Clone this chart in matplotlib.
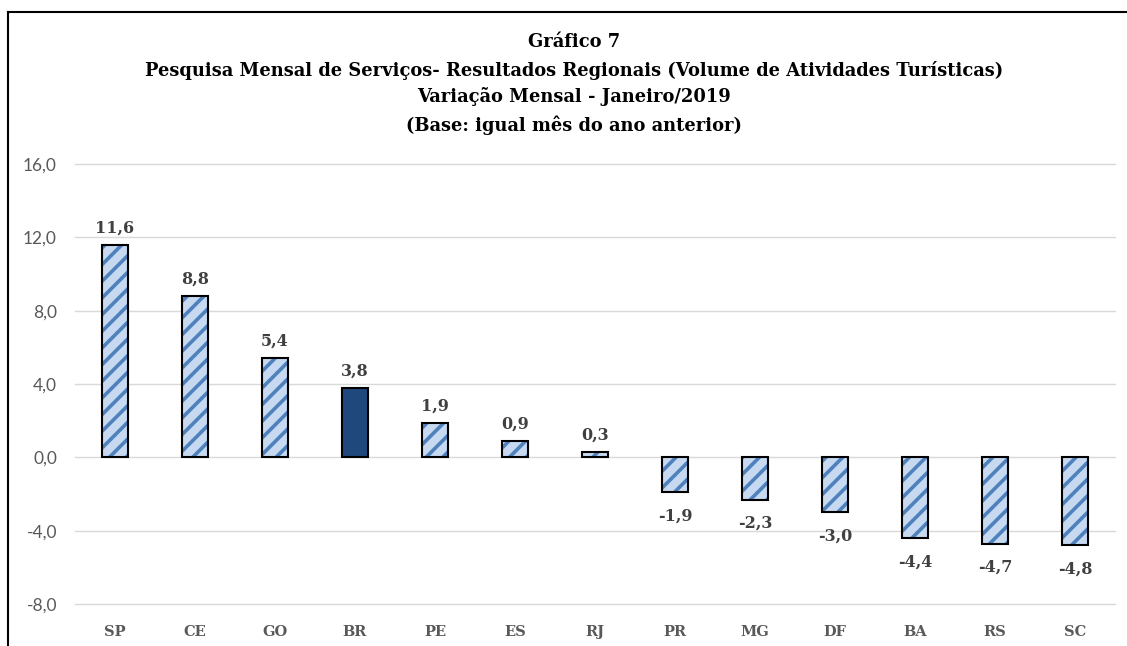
import numpy as np
import matplotlib
matplotlib.use('Agg')
import matplotlib.pyplot as plt
from matplotlib.lines import Line2D

# data
regions = ['SP', 'CE', 'GO', 'BR', 'PE', 'ES', 'RJ', 'PR', 'MG', 'DF', 'BA', 'RS', 'SC']
values = [11.6, 8.8, 5.4, 3.8, 1.9, 0.9, 0.3, -1.9, -2.3, -3.0, -4.4, -4.7, -4.8]
highlight = 'BR'
yticks = [-8.0, -4.0, 0.0, 4.0, 8.0, 12.0, 16.0]
title_lines = ['Gráfico 7',
               'Pesquisa Mensal de Serviços- Resultados Regionais (Volume de Atividades Turísticas)',
               'Variação Mensal - Janeiro/2019',
               '(Base: igual mês do ano anterior)']

light_blue = '#c6d9f1'
stripe_blue = '#4f81bd'
dark_blue = '#1f497d'
grey_txt = '#595959'

plt.rcParams['hatch.linewidth'] = 2.6
plt.rcParams['hatch.color'] = stripe_blue

fig = plt.figure(figsize=(11.27, 6.46), dpi=100)
ax = fig.add_axes([75/1127, 42/646, 1040/1127, 440/646])

x = np.arange(len(regions))
w = 0.32
for i, (r, v) in enumerate(zip(regions, values)):
    if r == highlight:
        ax.bar(i, v, width=w, color=dark_blue, edgecolor='black', linewidth=1.5, zorder=3)
    else:
        ax.bar(i, v, width=w, color=light_blue, edgecolor=stripe_blue, hatch='//',
               linewidth=0, zorder=3)
        ax.bar(i, v, width=w, fill=False, edgecolor='black', linewidth=1.5, zorder=4)
    lbl = f'{v:.1f}'.replace('.', ',')
    off = 6 if v >= 0 else -11
    ax.annotate(lbl, (i, v), xytext=(0, off), textcoords='offset points',
                ha='center', va='bottom' if v >= 0 else 'top',
                fontsize=11.5, fontweight='bold', family='DejaVu Serif', color='#404040')

ax.set_xlim(-0.5, len(regions) - 0.5)
ax.set_ylim(-8, 16)
ax.set_yticks(yticks)
ax.set_yticklabels([f'{t:.1f}'.replace('.', ',') for t in yticks],
                   family='Lato', fontsize=12.5, color=grey_txt)
ax.set_xticks(x)
ax.set_xticklabels(regions, family='DejaVu Serif', fontweight='bold', fontsize=10.5, color=grey_txt)
ax.tick_params(axis='y', length=0, pad=13)
ax.tick_params(axis='x', length=0, pad=15)
ax.grid(axis='y', color='#d9d9d9', linewidth=1.0, zorder=0)
for gl in ax.get_ygridlines():
    gl.set_clip_on(False)
for s in ax.spines.values():
    s.set_visible(False)

# title block
ys = [42, 70, 97, 125]
for t, yy in zip(title_lines, ys):
    fig.text(574/1127, 1 - yy/646, t, ha='center', va='center',
             fontsize=12.9, fontweight='bold', family='DejaVu Serif', color='black')

# chart border (cropped at right and bottom)
fig.add_artist(Line2D([8/1127, 8/1127], [0, 1 - 12/646], color='black', linewidth=1.5,
                      transform=fig.transFigure))
fig.add_artist(Line2D([8/1127, 1], [1 - 12/646, 1 - 12/646], color='black', linewidth=1.5,
                      transform=fig.transFigure))

fig.savefig('out.png', dpi=100)
